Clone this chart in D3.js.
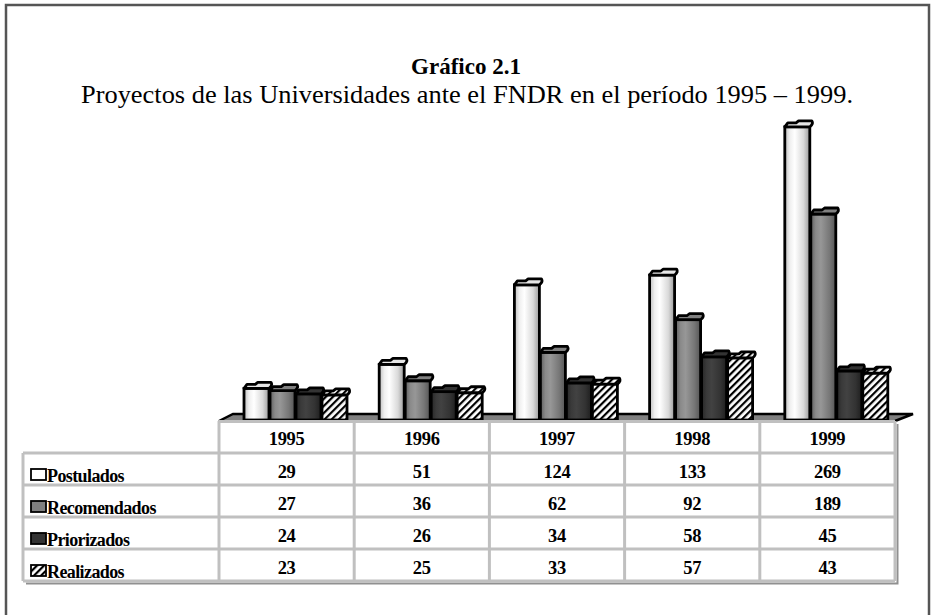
<!DOCTYPE html>
<html>
<head>
<meta charset="utf-8">
<script src="https://cdn.jsdelivr.net/npm/d3@7"></script>
<style>
  body { margin: 0; background: #fff; }
  svg text { font-family: "Liberation Serif", "Times New Roman", serif; }
</style>
</head>
<body>
<div id="chart"></div>
<script>
var years = ["1995", "1996", "1997", "1998", "1999"];
var seriesNames = ["Postulados", "Recomendados", "Priorizados", "Realizados"];
var postulados = [29, 51, 124, 133, 269];
var recomendados = [27, 36, 62, 92, 189];
var priorizados = [24, 26, 34, 58, 45];
var realizados = [23, 25, 33, 57, 43];
var seriesValues = [postulados, recomendados, priorizados, realizados];

function init() {
    var w = 933, h = 615;
    var svg = d3.select("#chart").append("svg")
        .attr("width", w)
        .attr("height", h);

    var defs = svg.append("defs");

    // gradients that give the bars a round (cylinder) look
    var grads = [
        ["#bdbdbd", "#efefef", "#ffffff", "#d9d9d9", "#9a9a9a"],
        ["#5e5e5e", "#8a8a8a", "#979797", "#777777", "#555555"],
        ["#262626", "#3a3a3a", "#424242", "#333333", "#1e1e1e"]
    ];
    grads.forEach(function(stops, i) {
        var g = defs.append("linearGradient").attr("id", "grad" + i)
            .attr("x1", "0%").attr("x2", "100%").attr("y1", "0%").attr("y2", "0%");
        [0, 0.2, 0.4, 0.75, 1].forEach(function(o, j) {
            g.append("stop").attr("offset", o).attr("stop-color", stops[j]);
        });
    });
    var pat = defs.append("pattern").attr("id", "hatch")
        .attr("patternUnits", "userSpaceOnUse")
        .attr("width", 5).attr("height", 5)
        .attr("patternTransform", "rotate(45)");
    pat.append("rect").attr("width", 5).attr("height", 5).attr("fill", "#fff");
    pat.append("rect").attr("width", 2.2).attr("height", 5).attr("fill", "#000");

    var fills = ["url(#grad0)", "url(#grad1)", "url(#grad2)", "url(#hatch)"];
    var capFills = ["#e6e6e6", "#808080", "#333333", "url(#hatch)"];
    var swatchFills = ["#ffffff", "#808080", "#333333", "url(#hatch)"];

    // outer frame
    svg.append("rect")
        .attr("x", 6).attr("y", 5)
        .attr("width", 923).attr("height", 640)
        .attr("fill", "none")
        .attr("stroke", "#555")
        .attr("stroke-width", 2.5);

    // titles
    svg.append("text")
        .attr("x", 466).attr("y", 74)
        .attr("text-anchor", "middle")
        .style("font-weight", "bold")
        .style("font-size", "23px")
        .text("Gráfico 2.1");
    svg.append("text")
        .attr("x", 467).attr("y", 103)
        .attr("text-anchor", "middle")
        .attr("textLength", 772)
        .attr("lengthAdjust", "spacingAndGlyphs")
        .style("font-size", "25px")
        .text("Proyectos de las Universidades ante el FNDR  en el período 1995 – 1999.");

    // scales
    var xScale = d3.scaleBand().domain(years).range([219, 895]);
    var xSeries = d3.scaleBand().domain(seriesNames).range([25, 129]);
    var yScale = d3.scaleLinear().domain([0, 300]).range([420, 93]);
    var rowScale = d3.scaleBand().domain(seriesNames).range([453, 581]);

    // floor
    var floorD = "M" + xScale.range()[0] + ",421 L233,414 L913,414 L" + xScale.range()[1] + ",421";
    svg.append("path")
        .attr("d", floorD + " Z")
        .attr("fill", "#808080");
    svg.append("path")
        .attr("d", floorD)
        .attr("fill", "none")
        .attr("stroke", "#000")
        .attr("stroke-width", 2.5);

    var bw = xSeries.bandwidth() - 1;
    var bars = [];
    seriesNames.forEach(function(s, si) {
        years.forEach(function(y, yi) {
            bars.push({ s: s, si: si, year: y, v: seriesValues[si][yi] });
        });
    });
    // draw year by year, series left to right
    bars.sort(function(a, b) { return d3.ascending(a.year, b.year) || d3.ascending(a.si, b.si); });

    var g = svg.selectAll(".bar").data(bars).enter().append("g").attr("class", "bar");

    g.append("rect")
        .attr("x", function(d) { return xScale(d.year) + xSeries(d.s); })
        .attr("y", function(d) { return yScale(d.v); })
        .attr("width", bw)
        .attr("height", function(d) { return yScale(0) - yScale(d.v); })
        .attr("fill", function(d) { return fills[d.si]; })
        .attr("stroke", "#000")
        .attr("stroke-width", 2.8);

    g.append("path")
        .attr("d", function(d) {
            var x0 = xScale(d.year) + xSeries(d.s), t = yScale(d.v);
            return "M" + x0 + "," + t +
                " L" + (x0 + 3) + "," + (t - 4) +
                " L" + (x0 + bw * 0.45) + "," + (t - 4) +
                " L" + (x0 + bw * 0.55) + "," + (t - 6) +
                " L" + (x0 + bw + 2) + "," + (t - 6) +
                " Q" + (x0 + bw + 4) + "," + (t - 3) + " " + (x0 + bw) + "," + t + " Z";
        })
        .attr("fill", function(d) { return capFills[d.si]; })
        .attr("stroke", "#000")
        .attr("stroke-width", 2.8)
        .attr("stroke-linejoin", "round");

    // data table
    var table = svg.append("g");
    var grid = "#c0c0c0";
    var x0 = xScale.range()[0], x1 = xScale.range()[1];
    var labelX = 23;

    // shadow
    table.append("path")
        .attr("d", "M" + (x1 + 2.5) + ",424 L" + (x1 + 2.5) + ",583.5 L" + (labelX + 3) + ",583.5")
        .attr("fill", "none").attr("stroke", "#909090").attr("stroke-width", 2);

    // horizontal lines
    table.append("line").attr("x1", x0).attr("x2", x1).attr("y1", 421.5).attr("y2", 421.5)
        .attr("stroke", grid).attr("stroke-width", 3);
    seriesNames.forEach(function(s) {
        table.append("line").attr("x1", labelX).attr("x2", x1)
            .attr("y1", rowScale(s)).attr("y2", rowScale(s))
            .attr("stroke", grid).attr("stroke-width", 3);
    });
    table.append("line").attr("x1", labelX).attr("x2", x1)
        .attr("y1", rowScale.range()[1]).attr("y2", rowScale.range()[1])
        .attr("stroke", grid).attr("stroke-width", 3);
    // vertical lines
    table.append("line").attr("x1", labelX).attr("x2", labelX)
        .attr("y1", rowScale.range()[0]).attr("y2", rowScale.range()[1])
        .attr("stroke", grid).attr("stroke-width", 3);
    years.forEach(function(y) {
        table.append("line").attr("x1", xScale(y)).attr("x2", xScale(y))
            .attr("y1", 421).attr("y2", rowScale.range()[1])
            .attr("stroke", grid).attr("stroke-width", 3);
    });
    table.append("line").attr("x1", x1).attr("x2", x1)
        .attr("y1", 421).attr("y2", rowScale.range()[1])
        .attr("stroke", grid).attr("stroke-width", 3);

    var cellStyle = function(sel) {
        sel.style("font-weight", "bold")
            .style("font-size", "18.5px")
            .style("letter-spacing", "-0.3px");
    };

    // year headers
    table.selectAll(".yr").data(years).enter().append("text")
        .attr("x", function(d) { return xScale(d) + xScale.bandwidth() / 2; })
        .attr("y", 445)
        .attr("text-anchor", "middle")
        .call(cellStyle)
        .text(function(d) { return d; });

    // rows
    seriesNames.forEach(function(s, si) {
        var ry = rowScale(s);
        table.append("rect")
            .attr("x", 31).attr("y", ry + 16)
            .attr("width", 15).attr("height", 11)
            .attr("fill", swatchFills[si])
            .attr("stroke", "#000").attr("stroke-width", 1.8);
        table.append("text")
            .attr("x", 47).attr("y", ry + 29)
            .call(cellStyle)
            .style("font-size", "18px")
            .style("letter-spacing", "-0.6px")
            .text(s);
        table.selectAll(".v" + si).data(seriesValues[si]).enter().append("text")
            .attr("x", function(d, i) { return xScale(years[i]) + xScale.bandwidth() / 2; })
            .attr("y", ry + 25)
            .attr("text-anchor", "middle")
            .call(cellStyle)
            .text(function(d) { return d; });
    });
}

window.onload = init;
</script>
</body>
</html>
